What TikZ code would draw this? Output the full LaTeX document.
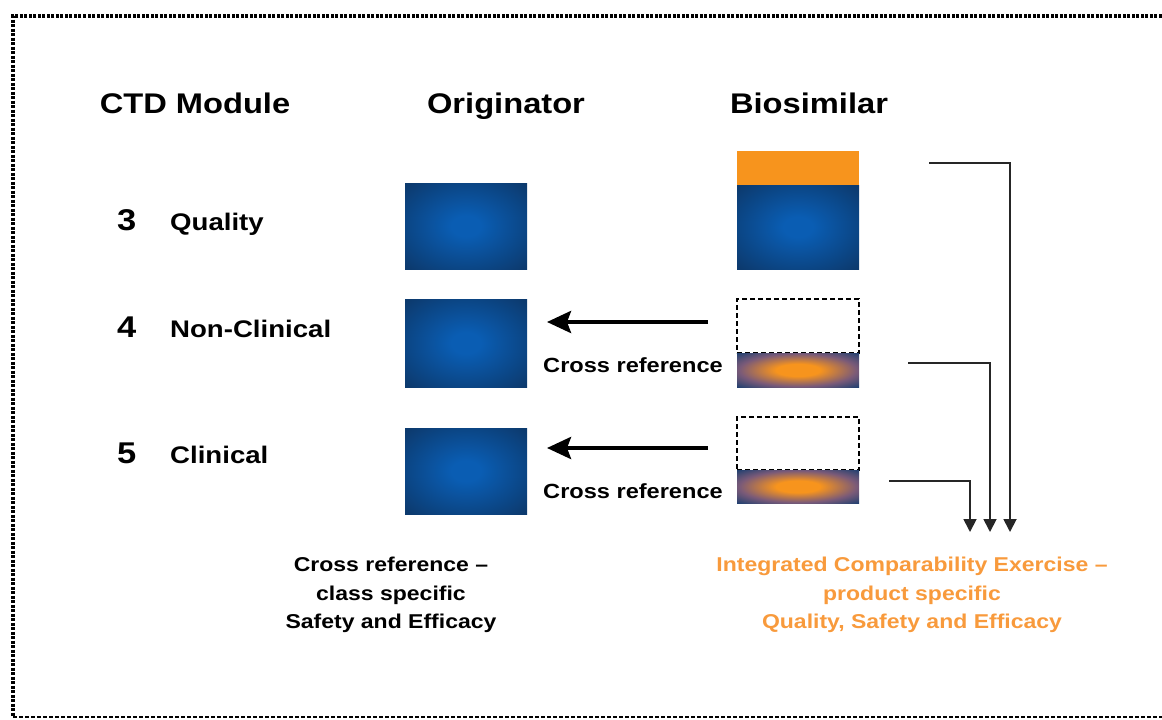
\documentclass[tikz,border=0pt]{standalone}
\usepackage{fontspec}
\setmainfont[FakeStretch=1.15]{Liberation Sans}
\usetikzlibrary{arrows.meta}
\definecolor{navy}{HTML}{0C3A6E}
\definecolor{bluec}{HTML}{0A5DB3}
\definecolor{orng}{HTML}{F7941D}
\definecolor{otext}{HTML}{F89A3C}
\definecolor{mixo}{HTML}{7A5A78}
\pgfdeclareradialshading{blueglow}{\pgfpoint{0bp}{0bp}}{color(0bp)=(bluec); color(6bp)=(bluec); color(34bp)=(navy); color(50bp)=(navy)}
\pgfdeclareradialshading{orangeglow}{\pgfpoint{0bp}{0bp}}{color(0bp)=(orng); color(9bp)=(orng); color(24bp)=(mixo); color(38bp)=(navy); color(50bp)=(navy)}
\tikzset{
  hdr/.style={font=\fontsize{28.4}{34}\selectfont\bfseries, inner sep=0pt, anchor=base},
  numlab/.style={font=\fontsize{30}{36}\selectfont\bfseries, inner sep=0pt, anchor=base west},
  modlab/.style={font=\fontsize{24}{29}\selectfont\bfseries, inner sep=0pt, anchor=base west},
  xref/.style={font=\fontsize{20.5}{25}\selectfont\bfseries, inner sep=0pt, anchor=base},
  note/.style={font=\fontsize{20}{28.3}\selectfont\bfseries, inner sep=0pt, align=center},
  bluebox/.style={shade, shading=blueglow, minimum width=122pt, inner sep=0pt, draw=none},
  orangebar/.style={shade, shading=orangeglow, minimum width=122pt, inner sep=0pt, draw=none},
  orangetop/.style={fill=orng, minimum width=122pt, inner sep=0pt, draw=none},
  emptybox/.style={draw=black, line width=1.5pt, dash pattern=on 5pt off 3pt, minimum width=122pt, inner sep=0pt},
  bigarrow/.style={line width=4pt, -{Stealth[length=24pt,width=22pt,inset=4pt]}},
  conn/.style={line width=1.8pt, draw=black!85, -{Triangle[length=13pt,width=13pt]}}
}
\begin{document}
\begin{tikzpicture}[x=1pt,y=-1pt]
\useasboundingbox (0,0) rectangle (1162,720);
% frame
\draw[line width=3.5pt, dash pattern=on 3pt off 1.5pt] (1175,16) -- (13,16) -- (13,717);
\draw[line width=1.8pt, dash pattern=on 4pt off 2pt] (13,717) -- (1175,717);
% headers
\node[hdr] (hctd) at (195,113) {CTD Module};
\node[hdr] (horig) at (506,113) {Originator};
\node[hdr] (hbio) at (809,113) {Biosimilar};
% module labels
\node[numlab] (n3) at (117,230) {3};
\node[modlab] (l3) at (170,230) {Quality};
\node[numlab] (n4) at (117,337) {4};
\node[modlab] (l4) at (170,337) {Non-Clinical};
\node[numlab] (n5) at (117,463) {5};
\node[modlab] (l5) at (170,463) {Clinical};
% originator boxes
\node[bluebox, minimum height=86pt] (o3) at (466,226) {};
\node[bluebox, minimum height=88pt] (o4) at (466,343) {};
\node[bluebox, minimum height=86pt] (o5) at (466,471) {};
% biosimilar boxes
\node[orangetop, minimum height=34pt] (bqt) at (798,168) {};
\node[bluebox, minimum height=84pt] (bq) at (798,227) {};
\node[emptybox, minimum height=54pt] (b4d) at (798,326) {};
\node[orangebar, minimum height=34pt] (b4) at (798,370) {};
\node[emptybox, minimum height=53pt] (b5d) at (798,443.5) {};
\node[orangebar, minimum height=33pt] (b5) at (798,486.5) {};
% cross reference arrows
\coordinate (a4s) at (708,322);
\coordinate (a4e) at (547,322);
\coordinate (a5s) at (708,448);
\coordinate (a5e) at (547,448);
\draw[bigarrow] (a4s) -- (a4e);
\draw[bigarrow] (a5s) -- (a5e);
\node[xref] (x4) at (633,372) {Cross reference};
\node[xref] (x5) at (633,498) {Cross reference};
% connectors to integrated exercise
\coordinate (c1s) at (929,163);
\coordinate (c1e) at (1010,532);
\coordinate (c2s) at (908,363);
\coordinate (c2e) at (990,532);
\coordinate (c3s) at (889,481);
\coordinate (c3e) at (970,532);
\draw[conn] (c1s) -| (c1e);
\draw[conn] (c2s) -| (c2e);
\draw[conn] (c3s) -| (c3e);
% bottom notes
\node[note] (nl) at (391,595) {Cross reference --\\class specific\\Safety and Efficacy};
\node[note, text=otext] (nr) at (912,595) {Integrated Comparability Exercise --\\product specific\\Quality, Safety and Efficacy};
\end{tikzpicture}
\end{document}
